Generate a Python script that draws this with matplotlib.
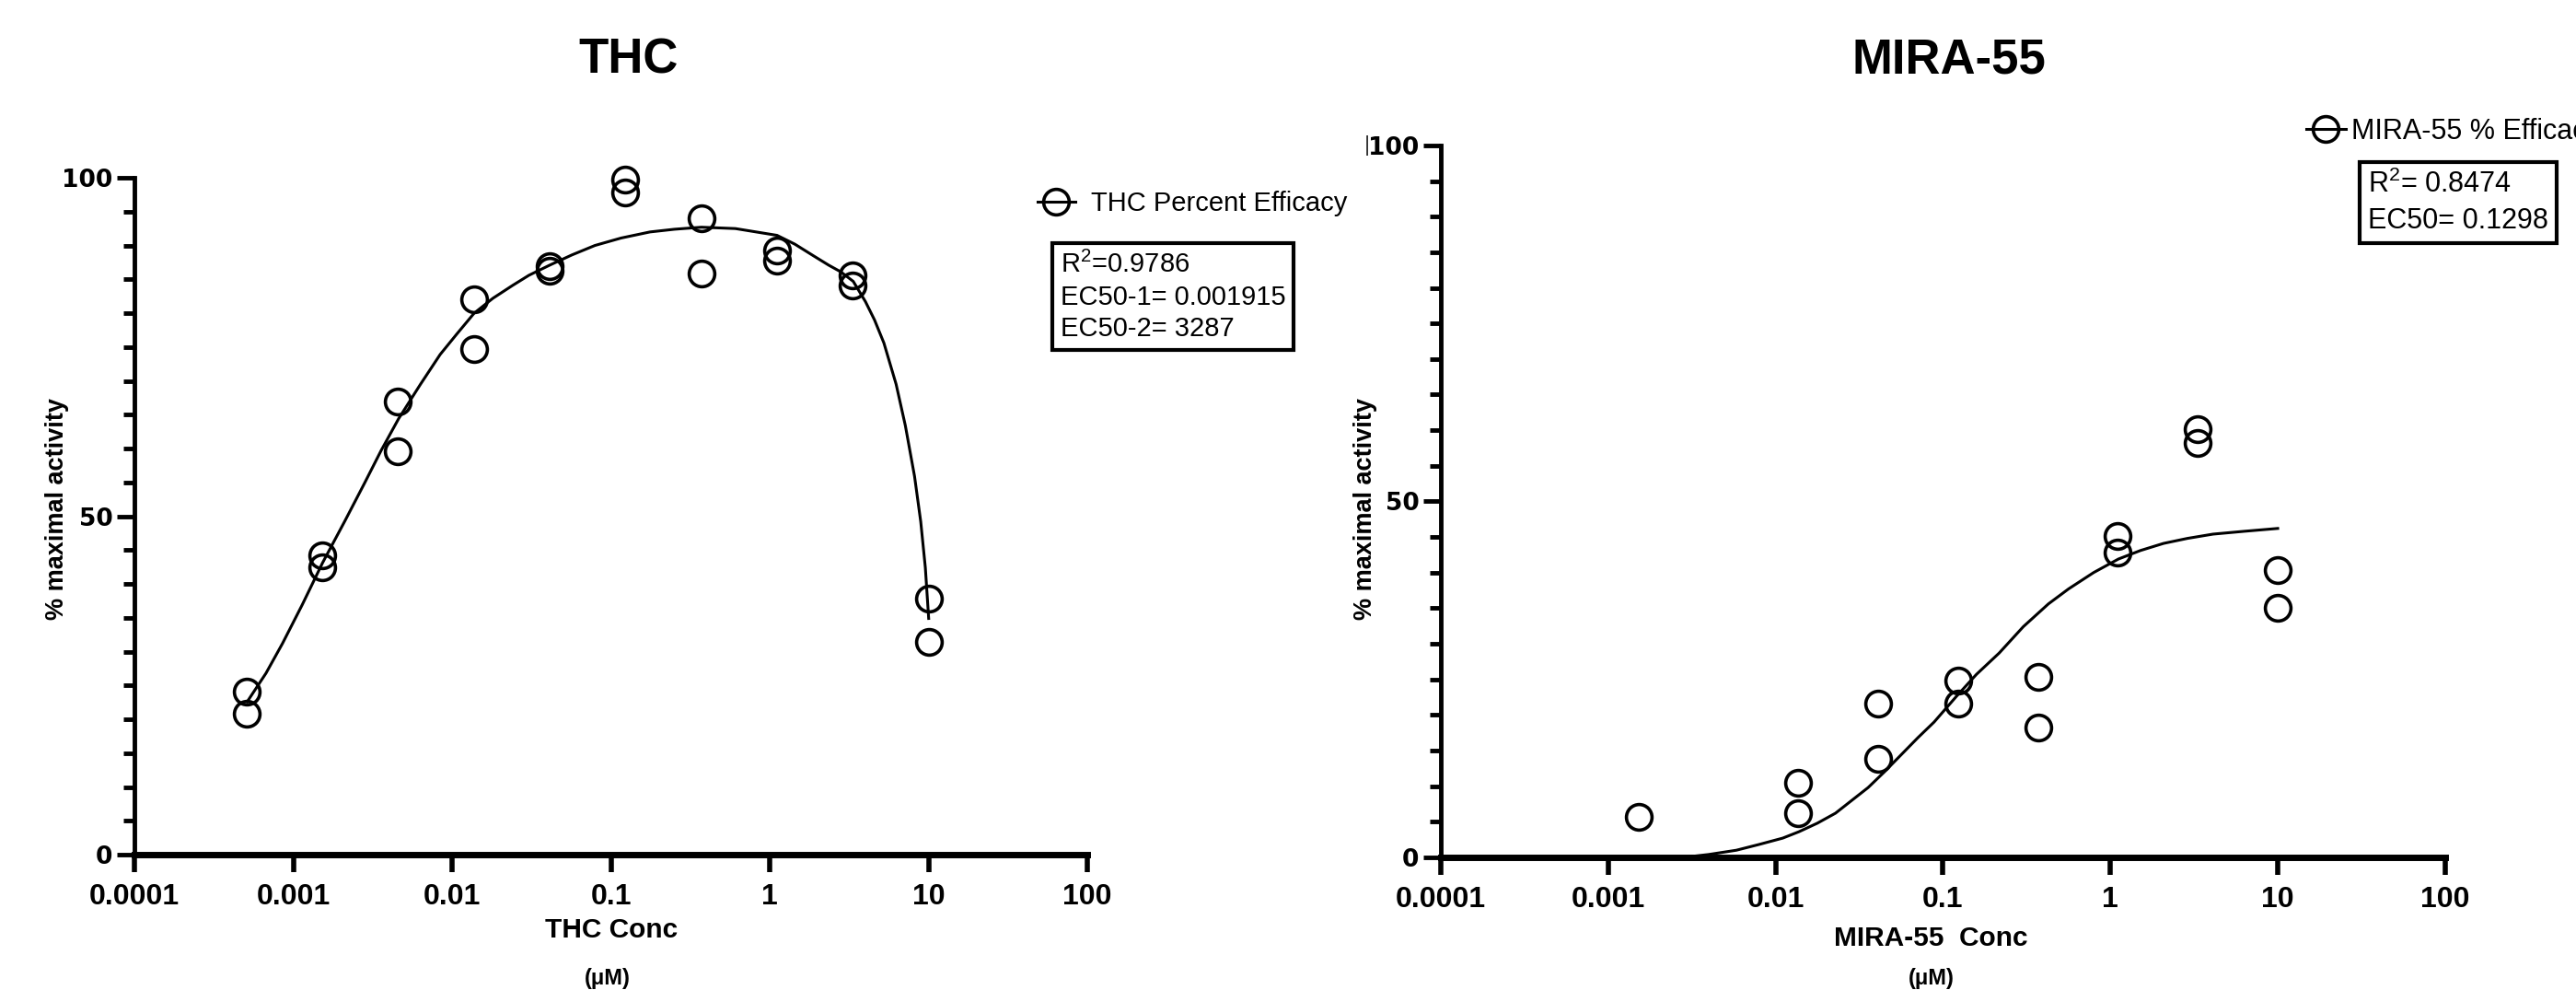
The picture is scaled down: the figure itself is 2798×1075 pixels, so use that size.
import numpy as np
import matplotlib
matplotlib.use("Agg")
import matplotlib.pyplot as plt
from matplotlib.lines import Line2D
from matplotlib.ticker import NullLocator

plt.rcParams["font.family"] = ["Liberation Sans", "DejaVu Sans"]
plt.rcParams["mathtext.fontset"] = "custom"
plt.rcParams["mathtext.rm"] = "Liberation Sans"
plt.rcParams["mathtext.it"] = "Liberation Sans"
plt.rcParams["mathtext.bf"] = "Liberation Sans:bold"

# concentration (uM) and replicate responses (% maximal activity)
thc_conc = [0.000508, 0.00152, 0.00457, 0.0137, 0.0412, 0.123, 0.370, 1.11, 3.33, 10]
thc_rep1 = [24.1, 44.2, 66.9, 82.0, 86.9, 99.7, 94.0, 89.2, 85.6, 37.8]
thc_rep2 = [20.8, 42.4, 59.6, 74.7, 86.3, 97.8, 85.8, 87.7, 84.1, 31.5]

mira_conc = [0.00152, 0.0137, 0.0412, 0.123, 0.370, 1.11, 3.33, 10]
mira_rep1 = [5.7, 10.5, 21.6, 24.8, 25.3, 45.2, 60.2, 40.3]
mira_rep2 = [np.nan, 6.2, 13.8, 21.6, 18.2, 42.8, 58.2, 35.1]

# fitted curves (log10 conc, response)
thc_fit_logx = [-3.290, -3.172, -3.068, -2.944, -2.816, -2.675, -2.551, -2.447, -2.337,
                -2.199, -2.075, -1.971, -1.861, -1.743, -1.619, -1.516, -1.385, -1.246,
                -1.101, -0.936, -0.754, -0.600, -0.430, -0.216, 0.046, 0.158, 0.274,
                0.371, 0.448, 0.526, 0.603, 0.660, 0.719, 0.796, 0.854, 0.912, 0.951,
                0.980, 1.001]
thc_fit_y = [22.6, 26.8, 31.2, 36.9, 43.1, 49.3, 54.9, 59.7, 64.4,
             69.5, 73.9, 76.9, 80.0, 82.2, 84.1, 85.6, 87.1, 88.6,
             90.0, 91.1, 92.0, 92.4, 92.7, 92.5, 91.5, 90.2, 88.5,
             87.1, 86.1, 84.7, 81.7, 79.0, 75.6, 69.5, 63.4, 55.9, 49.2,
             42.4, 34.9]

mira_fit_logx = [-2.55, -2.40, -2.234, -2.10, -1.957, -1.86, -1.75, -1.642, -1.55, -1.447,
                 -1.35, -1.25, -1.15, -1.053, -0.92, -0.80, -0.664, -0.52, -0.37, -0.25,
                 -0.10, 0.048, 0.18, 0.318, 0.46, 0.613, 0.80, 1.0]
mira_fit_y = [0.0, 0.4, 1.0, 1.8, 2.7, 3.6, 4.8, 6.2, 7.9, 9.8,
              12.0, 14.4, 16.8, 19.0, 22.6, 25.7, 28.7, 32.4, 35.6, 37.7,
              40.0, 41.9, 43.1, 44.1, 44.8, 45.4, 45.8, 46.2]

decades = [0.0001, 0.001, 0.01, 0.1, 1, 10, 100]
decade_labels = ["0.0001", "0.001", "0.01", "0.1", "1", "10", "100"]

MS = 20
MEW = 2.6
LW = 2.2


def style_axis(ax):
    ax.set_xscale("log")
    ax.set_xlim(1e-4, 100)
    ax.set_ylim(0, 100)
    ax.spines["top"].set_visible(False)
    ax.spines["right"].set_visible(False)
    ax.spines["left"].set_linewidth(3.5)
    ax.spines["bottom"].set_linewidth(5)
    ax.set_xticks(decades)
    ax.set_xticklabels(decade_labels)
    ax.xaxis.set_minor_locator(NullLocator())
    ax.set_yticks([0, 50, 100])
    ax.set_yticks(range(0, 101, 5), minor=True)
    ax.tick_params(axis="x", which="major", length=14, width=4, pad=8)
    ax.tick_params(axis="y", which="major", length=14, width=3.5, pad=3)
    ax.tick_params(axis="y", which="minor", length=9, width=3.5)
    for lab in ax.get_xticklabels():
        lab.set_fontweight("bold")
        lab.set_fontsize(23)
    for lab in ax.get_yticklabels():
        lab.set_fontfamily("DejaVu Sans")
        lab.set_fontweight("bold")
        lab.set_fontsize(19)


def draw_points(ax, conc, r1, r2):
    ax.plot(conc, r1, "o", mfc="none", mec="black", ms=MS, mew=MEW, clip_on=False, zorder=3)
    ax.plot(conc, r2, "o", mfc="none", mec="black", ms=MS, mew=MEW, clip_on=False, zorder=3)


fig = plt.figure(figsize=(27.98, 10.75), dpi=100)
ax1 = fig.add_axes([0.0522, 0.1367, 0.3699, 0.6837])
ax2 = fig.add_axes([0.5593, 0.1340, 0.3899, 0.7191])

# THC panel
style_axis(ax1)
draw_points(ax1, thc_conc, thc_rep1, thc_rep2)
ax1.plot(10 ** np.array(thc_fit_logx), thc_fit_y, color="black", lw=LW)

# MIRA-55 panel
style_axis(ax2)
draw_points(ax2, mira_conc, mira_rep1, mira_rep2)
ax2.plot(10 ** np.array(mira_fit_logx), mira_fit_y, color="black", lw=LW, clip_on=False)

handle = Line2D([], [], color="black", lw=LW, marker="o", mfc="none", mec="black", ms=MS, mew=MEW)
ax1.legend([handle], ["THC Percent Efficacy"], loc="center left",
           bbox_to_anchor=(1127 / 2798, 1 - 221 / 1075), bbox_transform=fig.transFigure,
           frameon=False, borderpad=0, borderaxespad=0, handlelength=1.4,
           handletextpad=0.6, prop={"size": 21})
ax2.legend([handle], ["MIRA-55 % Efficacy"], loc="center left",
           bbox_to_anchor=(2505 / 2798, 1 - 143 / 1075), bbox_transform=fig.transFigure,
           frameon=False, borderpad=0, borderaxespad=0, handlelength=1.4,
           handletextpad=0.2, prop={"size": 22})

box = dict(boxstyle="square,pad=0.3", fc="white", ec="black", lw=3)
fig.text(1152 / 2798, 1 - 322 / 1075, "R$^2$=0.9786\nEC50-1= 0.001915\nEC50-2= 3287",
         ha="left", va="center", size=21, linespacing=1.3, bbox=box)
fig.text(2572 / 2798, 1 - 220 / 1075, "R$^2$= 0.8474\nEC50= 0.1298",
         ha="left", va="center", size=22, linespacing=1.4, bbox=box)

# titles
fig.text(683 / 2798, 1 - 66 / 1075, "THC", ha="center", va="center",
         weight="bold", size=38)
fig.text(2117 / 2798, 1 - 66 / 1075, "MIRA-55", ha="center", va="center",
         weight="bold", size=38)

# axis labels
for x, y in [(62, 553), (1483, 553)]:
    fig.text(x / 2798, 1 - y / 1075, "% maximal activity", rotation=90, ha="center",
             va="center", weight="bold", size=19.5)
fig.text(664 / 2798, 1 - 1010 / 1075, "THC Conc", ha="center", va="center",
         weight="bold", size=21.5)
fig.text(2097 / 2798, 1 - 1019 / 1075, "MIRA-55  Conc", ha="center", va="center",
         weight="bold", size=21.5)
for x in [660, 2098]:
    fig.text(x / 2798, 1 - 1063 / 1075, "(μM)", ha="center", va="center",
             weight="bold", size=17)

fig.text(1485 / 2798, 1 - 158 / 1075, "|", ha="center", va="center",
         size=17, color="#333333")

fig.savefig("out.png", dpi=100)
